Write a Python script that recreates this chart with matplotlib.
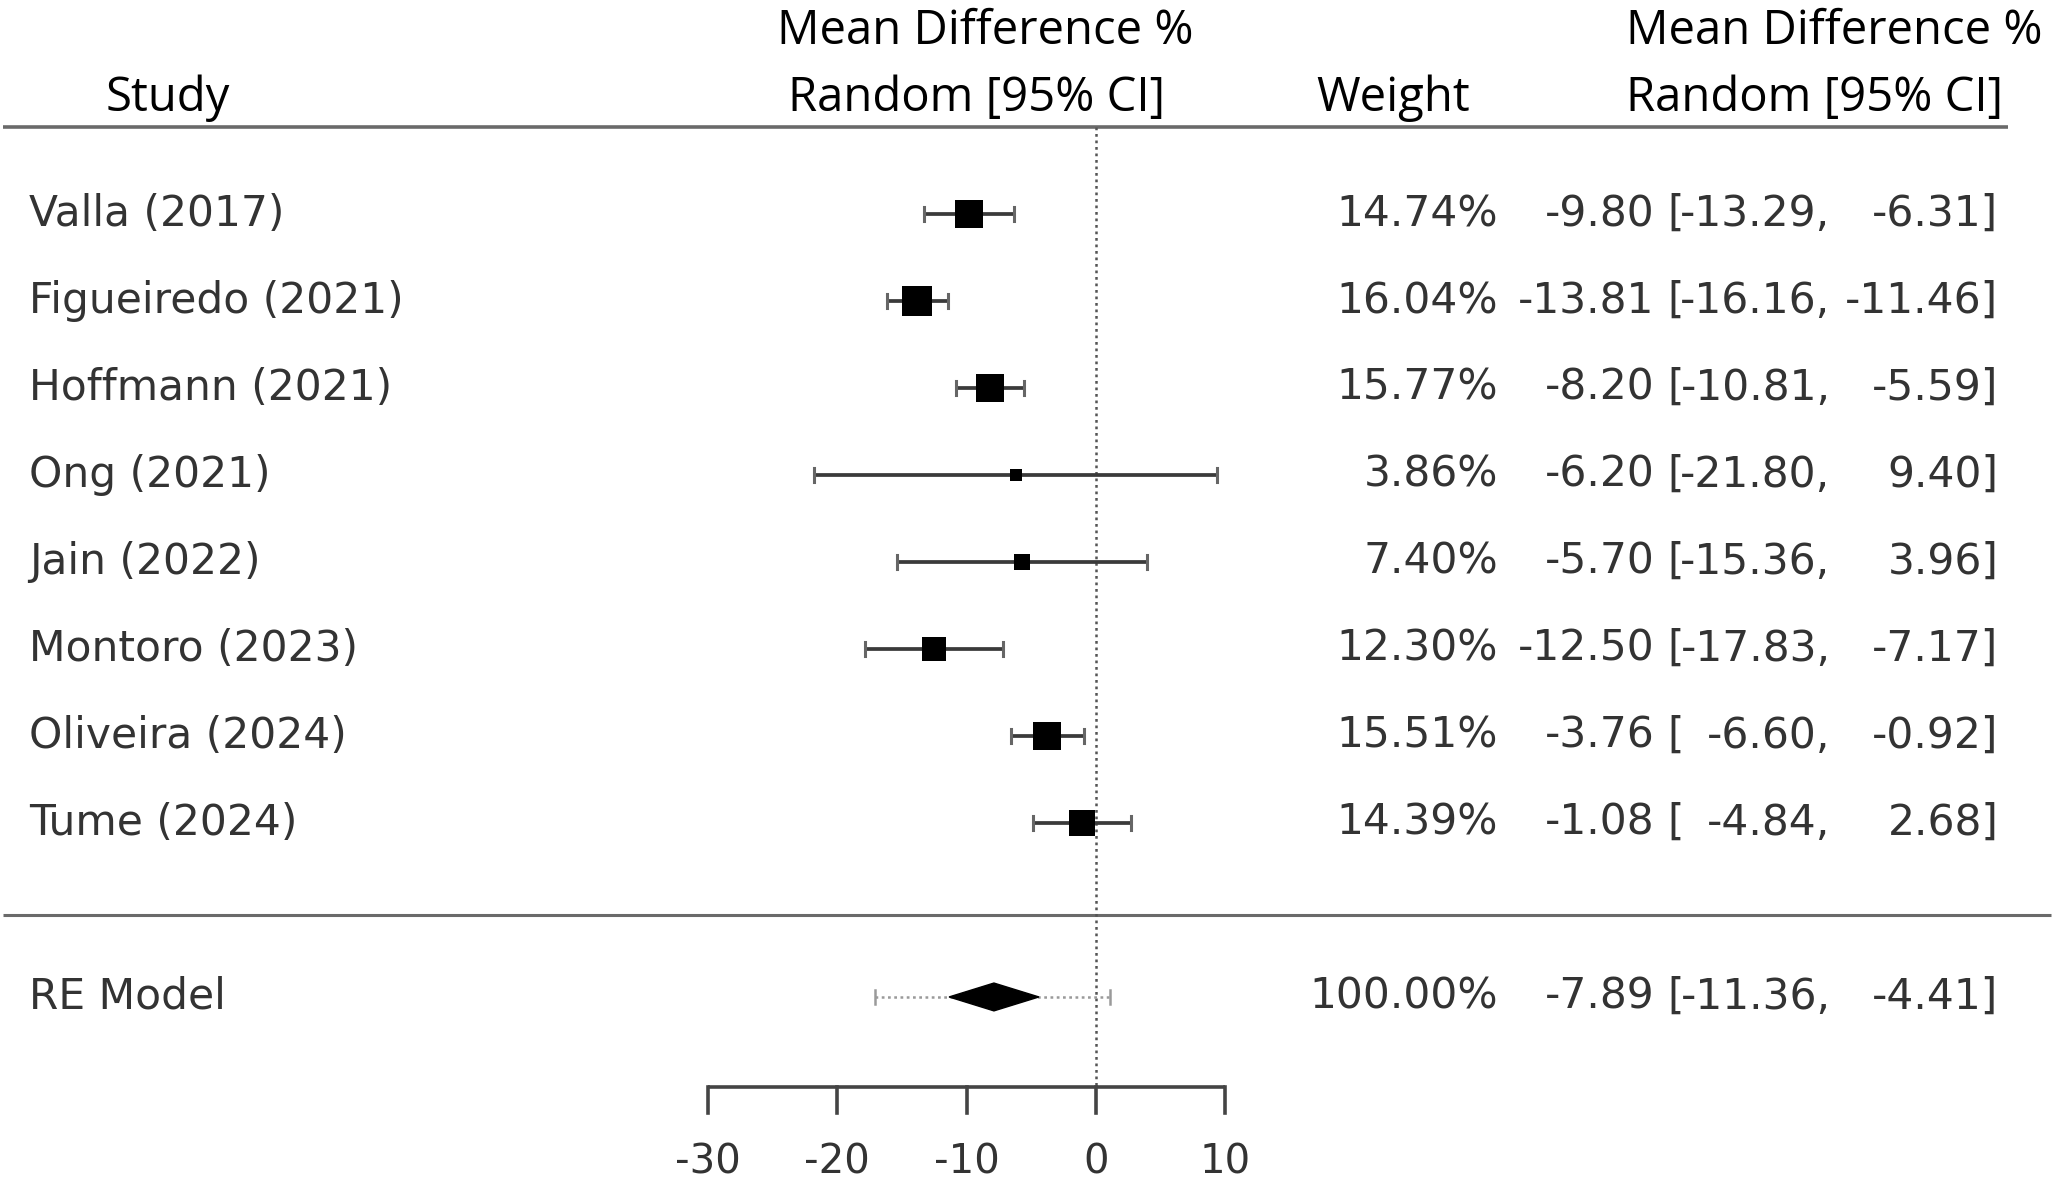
import matplotlib.pyplot as plt
from matplotlib.patches import Polygon

# datos
estudios = ["Valla (2017)", "Figueiredo (2021)", "Hoffmann (2021)", "Ong (2021)",
            "Jain (2022)", "Montoro (2023)", "Oliveira (2024)", "Tume (2024)"]
media = [-9.80, -13.81, -8.20, -6.20, -5.70, -12.50, -3.76, -1.08]
ic_inf = [-13.29, -16.16, -10.81, -21.80, -15.36, -17.83, -6.60, -4.84]
ic_sup = [-6.31, -11.46, -5.59, 9.40, 3.96, -7.17, -0.92, 2.68]
pesos = [14.74, 16.04, 15.77, 3.86, 7.40, 12.30, 15.51, 14.39]

re_media = -7.89
re_inf = -11.36
re_sup = -4.41
re_peso = 100.00
pi_inf = -17.1
pi_sup = 1.1

ticks_x = [-30, -20, -10, 0, 10]

gris = "#333333"
fuente = "DejaVu Sans"
fuente_cab = "Open Sans"
tam = 30.5
tam_cab = 34

fig = plt.figure(figsize=(20.52, 11.84), dpi=100)
ax = fig.add_axes([0, 0, 1, 1])
ax.set_xlim(-84.76, 73.94)
ax.set_ylim(-3.15, 10.46)
ax.axis("off")

k = len(estudios)
filas = list(range(k, 0, -1))

# lineas de cabecera y separador
ax.plot([-84.5, 70.5], [9.0, 9.0], color="#6a6a6a", lw=2.6, solid_capstyle="butt")
ax.plot([-84.5, 73.9], [-0.06, -0.06], color="#6a6a6a", lw=2.2, solid_capstyle="butt")

# linea vertical en cero
ax.plot([0, 0], [9.0, -2.03], color="#555555", lw=1.8, linestyle=(0, (1.1, 1.5)))

# estudios
for y, m, lo, hi, w in zip(filas, media, ic_inf, ic_sup, pesos):
    ax.plot([lo, hi], [y, y], color="#3a3a3a", lw=2.7, solid_capstyle="butt")
    for xe in (lo, hi):
        ax.plot([xe, xe], [y - 0.085, y + 0.085], color="#666666", lw=2.2)
    lado = (5.3 + 1.478 * w) * 0.72
    ax.scatter([m], [y], marker="s", s=lado ** 2, color="black", zorder=3, linewidths=0)

# intervalo de prediccion y diamante
ax.plot([pi_inf, pi_sup], [-1, -1], color="#9a9a9a", lw=1.8, linestyle=(0, (1.1, 1.4)))
for xe in (pi_inf, pi_sup):
    ax.plot([xe, xe], [-1.08, -0.92], color="#9a9a9a", lw=1.8)
dh = 0.16
ax.add_patch(Polygon([[re_inf, -1], [re_media, -1 + dh], [re_sup, -1], [re_media, -1 - dh]],
                     closed=True, facecolor="black", edgecolor="black", lw=1, zorder=3))

# eje x
ax.plot([ticks_x[0], ticks_x[-1]], [-2.03, -2.03], color="#444444", lw=2.6, solid_capstyle="butt")
for t in ticks_x:
    ax.plot([t, t], [-2.03, -2.33], color="#444444", lw=2.6)
    ax.text(t, -2.9, str(t), ha="center", va="center", fontsize=29, color=gris, family=fuente)


def fila_texto(y, nombre, w, m, lo, hi):
    ax.text(-82.5, y, nombre, ha="left", va="center", fontsize=tam, color=gris, family=fuente)
    ax.text(31.1, y, f"{w:.2f}%", ha="right", va="center", fontsize=tam, color=gris, family=fuente)
    ax.text(43.2, y, f"{m:.2f}", ha="right", va="center", fontsize=tam, color=gris, family=fuente)
    ax.text(44.2, y, "[", ha="left", va="center", fontsize=tam, color=gris, family=fuente)
    ax.text(56.8, y, f"{lo:.2f},", ha="right", va="center", fontsize=tam, color=gris, family=fuente)
    ax.text(69.8, y, f"{hi:.2f}]", ha="right", va="center", fontsize=tam, color=gris, family=fuente)


for y, nombre, m, lo, hi, w in zip(filas, estudios, media, ic_inf, ic_sup, pesos):
    fila_texto(y, nombre, w, m, lo, hi)
fila_texto(-1, "RE Model", re_peso, re_media, re_inf, re_sup)

# cabeceras
ax.text(-71.8, 9.33, "Study", ha="center", va="center", fontsize=tam_cab, family=fuente_cab)
ax.text(-8.6, 10.1, "Mean Difference %", ha="center", va="center", fontsize=tam_cab, family=fuente_cab)
ax.text(-9.2, 9.33, "Random [95% CI]", ha="center", va="center", fontsize=tam_cab, family=fuente_cab)
ax.text(23.0, 9.33, "Weight", ha="center", va="center", fontsize=tam_cab, family=fuente_cab)
ax.text(41.0, 10.1, "Mean Difference %", ha="left", va="center", fontsize=tam_cab, family=fuente_cab)
ax.text(41.0, 9.33, "Random [95% CI]", ha="left", va="center", fontsize=tam_cab, family=fuente_cab)

fig.savefig("out.png", dpi=100)
